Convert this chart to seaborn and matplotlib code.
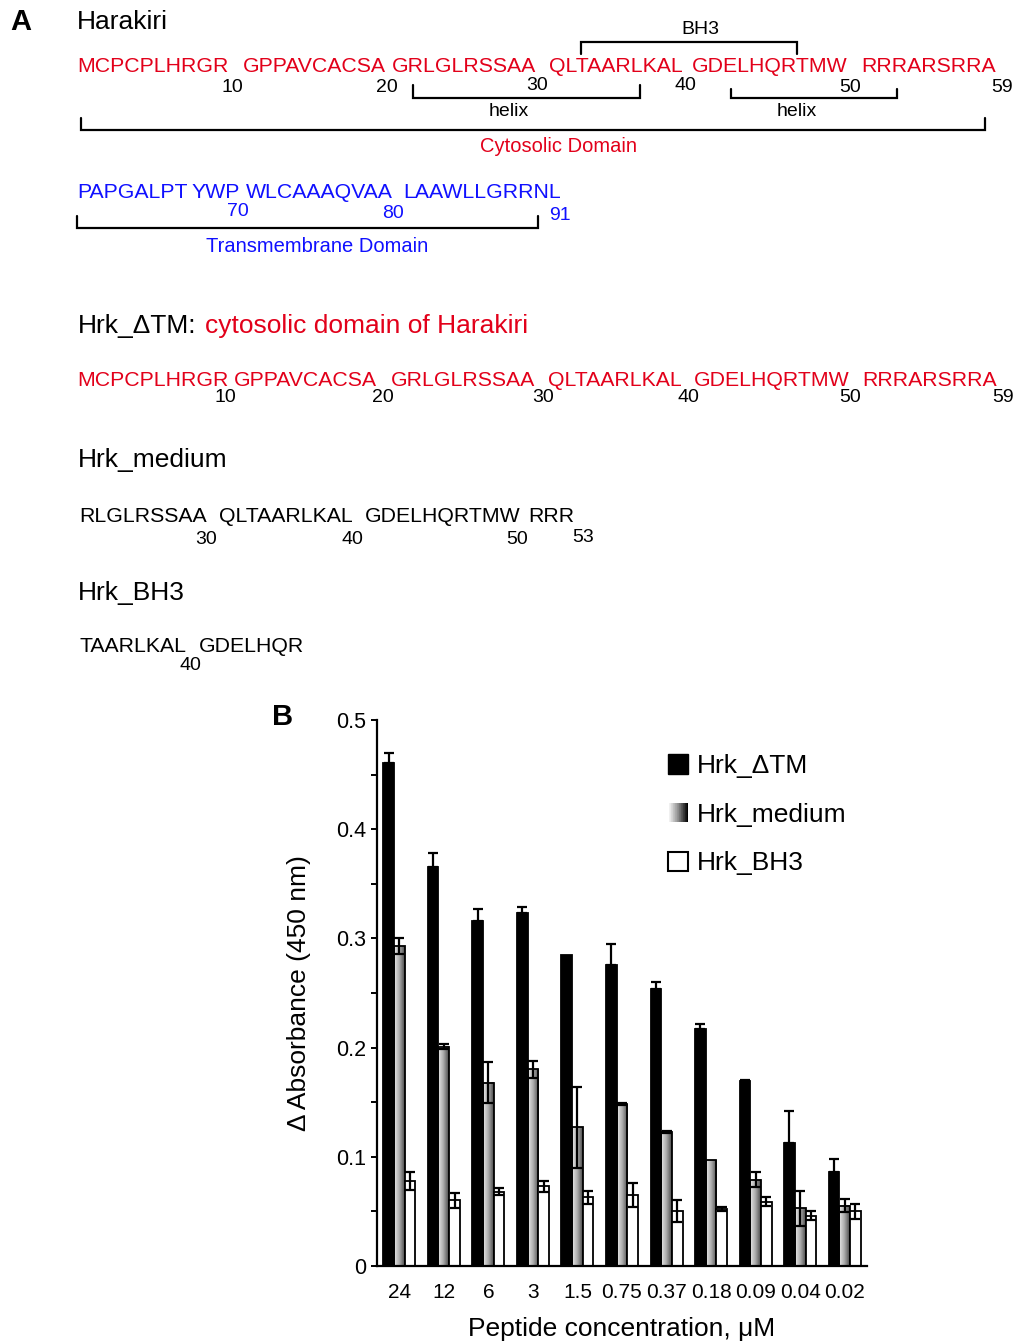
import numpy as np
import pandas as pd
import matplotlib
matplotlib.use("Agg")
import matplotlib.pyplot as plt
import seaborn as sns
from matplotlib.lines import Line2D
from matplotlib.patches import Rectangle, Patch
from matplotlib.legend_handler import HandlerBase
from matplotlib.colors import LinearSegmentedColormap
from matplotlib.ticker import MultipleLocator

# ---------------- data ----------------
concentrations = ['24', '12', '6', '3', '1.5', '0.75', '0.37', '0.18', '0.09', '0.04', '0.02']
series = ['Hrk_ΔTM', 'Hrk_medium', 'Hrk_BH3']
dtm_mean = [0.461, 0.365, 0.316, 0.323, 0.285, 0.276, 0.254, 0.217, 0.169, 0.113, 0.086]
dtm_err = [0.009, 0.013, 0.011, 0.006, 0.0, 0.019, 0.006, 0.005, 0.001, 0.029, 0.012]
medium_mean = [0.293, 0.201, 0.168, 0.180, 0.127, 0.148, 0.123, 0.097, 0.079, 0.053, 0.055]
medium_err = [0.0075, 0.002, 0.019, 0.0075, 0.037, 0.001, 0.001, 0.0, 0.007, 0.016, 0.006]
bh3_mean = [0.078, 0.060, 0.068, 0.073, 0.063, 0.065, 0.050, 0.052, 0.059, 0.046, 0.050]
bh3_err = [0.008, 0.007, 0.003, 0.005, 0.006, 0.011, 0.010, 0.002, 0.004, 0.004, 0.007]
y_ticks = [0, 0.1, 0.2, 0.3, 0.4, 0.5]
y_tick_labels = ['0', '0.1', '0.2', '0.3', '0.4', '0.5']

RED = '#e2001a'
BLUE = '#1010ff'

sns.set_style("ticks")
plt.rcParams['font.family'] = ['Liberation Sans', 'DejaVu Sans']
plt.rcParams.update({'text.color': 'black', 'axes.labelcolor': 'black',
                     'xtick.color': 'black', 'ytick.color': 'black',
                     'axes.edgecolor': 'black'})

W, H = 1017, 1341
fig = plt.figure(figsize=(W / 100, H / 100), dpi=100)


def T(x, y, s, size=15.3, color='black', ha='left', weight='normal'):
    fig.text(x / W, 1 - y / H, s, fontsize=size, color=color, ha=ha,
             va='center', fontweight=weight)


def bracket(x0, x1, y_line, y_leg):
    fig.add_artist(Line2D([x0 / W, x0 / W, x1 / W, x1 / W],
                          [1 - y_leg / H, 1 - y_line / H, 1 - y_line / H, 1 - y_leg / H],
                          color='black', lw=1.6, transform=fig.transFigure,
                          solid_joinstyle='miter'))


# ---------------- panel A ----------------
T(10, 22, 'A', size=21, weight='bold')
T(77, 22, 'Harakiri', size=19)

# full sequence, row 1
for x, s in [(77, 'MCPCPLHRGR'), (243, 'GPPAVCACSA'), (392, 'GRLGLRSSAA'),
             (549, 'QLTAARLKAL'), (692, 'GDELHQRTMW'), (861, 'RRRARSRRA')]:
    T(x, 67, s, color=RED)
for x, y, s in [(232, 88, '10'), (387, 88, '20'), (537, 85, '30'),
                (685, 85, '40'), (850, 87, '50'), (1002, 87, '59')]:
    T(x, y, s, size=14, ha='center')
T(700, 30, 'BH3', size=14, ha='center')
bracket(581, 797, 42, 54)
bracket(413, 640, 98, 85)
T(509, 111, 'helix', size=14, ha='center')
bracket(731, 897, 98, 89)
T(797, 111, 'helix', size=14, ha='center')
bracket(81, 985, 130, 118)
T(559, 147, 'Cytosolic Domain', size=14.5, color=RED, ha='center')

# transmembrane row
for x, s in [(77, 'PAPGALPT'), (192, 'YWP'), (246, 'WLCAAAQVAA'), (403, 'LAAWLLGRRNL')]:
    T(x, 193, s, color=BLUE)
for x, y, s in [(238, 212, '70'), (393, 214, '80'), (560, 215, '91')]:
    T(x, y, s, size=14, color=BLUE, ha='center')
bracket(77, 538, 228, 216)
T(317, 247, 'Transmembrane Domain', size=14.5, color=BLUE, ha='center')

# Hrk_dTM
T(78, 326, 'Hrk_ΔTM:', size=19)
T(205, 326, 'cytosolic domain of Harakiri', size=19, color=RED)
for x, s in [(77, 'MCPCPLHRGR'), (234, 'GPPAVCACSA'), (391, 'GRLGLRSSAA'),
             (548, 'QLTAARLKAL'), (694, 'GDELHQRTMW'), (862, 'RRRARSRRA')]:
    T(x, 380, s, color=RED)
for x, s in [(225, '10'), (383, '20'), (543, '30'), (688, '40'), (850, '50'), (1003, '59')]:
    T(x, 398, s, size=14, ha='center')

# Hrk_medium
T(78, 460, 'Hrk_medium', size=19)
for x, s in [(79, 'RLGLRSSAA'), (219, 'QLTAARLKAL'), (365, 'GDELHQRTMW'), (528, 'RRR')]:
    T(x, 517, s)
for x, y, s in [(206, 540, '30'), (352, 540, '40'), (517, 539, '50'), (583, 537, '53')]:
    T(x, y, s, size=14, ha='center')

# Hrk_BH3
T(78, 593, 'Hrk_BH3', size=19)
for x, s in [(79, 'TAARLKAL'), (199, 'GDELHQR')]:
    T(x, 647, s)
T(190, 665, '40', size=14, ha='center')

# ---------------- panel B ----------------
T(272, 717, 'B', size=21, weight='bold')

df = pd.DataFrame({
    'conc': concentrations * 3,
    'series': [series[0]] * len(concentrations) + [series[1]] * len(concentrations)
              + [series[2]] * len(concentrations),
    'value': dtm_mean + medium_mean + bh3_mean,
})

ax = fig.add_axes([377 / W, 75 / H, 490 / W, 546 / H])
palette = {series[0]: 'black', series[1]: '#999999', series[2]: 'white'}
sns.barplot(data=df, x='conc', y='value', hue='series', order=concentrations,
            hue_order=series, palette=palette, saturation=1, width=0.72,
            edgecolor='black', linewidth=1.3, errorbar=None, legend=False, ax=ax)

bar_cmap = LinearSegmentedColormap.from_list('bar', ['#e8e8e8', '#ababab', '#4a4a4a'])
leg_cmap = LinearSegmentedColormap.from_list('leg', ['#ffffff', '#909090', '#000000'])
grad = np.linspace(0, 1, 64).reshape(1, -1)

errs = [dtm_err, medium_err, bh3_err]
bar_containers = list(ax.containers)
for k, cont in enumerate(bar_containers):
    bars = [b for b in cont.patches]
    xs = np.array([b.get_x() + b.get_width() / 2 for b in bars])
    ys = np.array([b.get_height() for b in bars])
    e = np.array(errs[k])
    if k == 1:
        for b in bars:
            x0, w, h = b.get_x(), b.get_width(), b.get_height()
            b.set_facecolor('none')
            ax.imshow(grad, extent=[x0, x0 + w, 0, h], aspect='auto', cmap=bar_cmap,
                      vmin=0, vmax=1, zorder=0.9, interpolation='bilinear')
    if k == 0:
        yerr = [np.zeros_like(e), e]
    else:
        yerr = [e, e]
    mask = e > 0
    ax.errorbar(xs[mask], ys[mask], yerr=[yerr[0][mask], yerr[1][mask]], fmt='none',
                ecolor='black', elinewidth=1.6, capsize=3.5, capthick=1.6, zorder=3)

ax.set_xlim(-0.5, len(concentrations) - 0.5)
ax.set_ylim(0, 0.5)
ax.set_yticks(y_ticks)
ax.set_yticklabels(y_tick_labels)
ax.yaxis.set_minor_locator(MultipleLocator(0.05))
ax.tick_params(axis='y', which='both', length=4, width=1.4, direction='out', pad=4,
               labelsize=15.5, colors='black')
ax.tick_params(axis='x', length=0, pad=12, labelsize=15, colors='black')
sns.despine(ax=ax)
for sp in ['left', 'bottom']:
    ax.spines[sp].set_linewidth(1.6)
    ax.spines[sp].set_color('black')
ax.set_xlabel('Peptide concentration, μM', fontsize=19, color='black')
ax.set_ylabel('Δ Absorbance (450 nm)', fontsize=19, color='black')
ax.xaxis.set_label_coords(0.5, -0.094)
ax.yaxis.set_label_coords(-0.135, 0.5)


class GradientHandler(HandlerBase):
    def create_artists(self, legend, orig_handle, xdescent, ydescent, width, height,
                       fontsize, trans):
        n = 30
        arts = []
        for i in range(n):
            arts.append(Rectangle((-xdescent + i * width / n, -ydescent), width / n, height,
                                  facecolor=leg_cmap(i / (n - 1)), edgecolor='none',
                                  transform=trans))
        return arts


h_dtm = Patch(facecolor='black', edgecolor='black')
h_med = Patch(facecolor='#999999', edgecolor='none')
h_bh3 = Patch(facecolor='white', edgecolor='black', linewidth=1.5)
leg = ax.legend(handles=[h_dtm, h_med, h_bh3], labels=series,
                handler_map={h_med: GradientHandler()},
                loc='upper left', bbox_to_anchor=(0.594, 0.937), frameon=False,
                fontsize=19, handlelength=0.76, handleheight=0.76, handletextpad=0.35,
                labelspacing=0.93, borderpad=0, borderaxespad=0)
for t in leg.get_texts():
    t.set_color('black')

fig.savefig('out.png', dpi=100)
